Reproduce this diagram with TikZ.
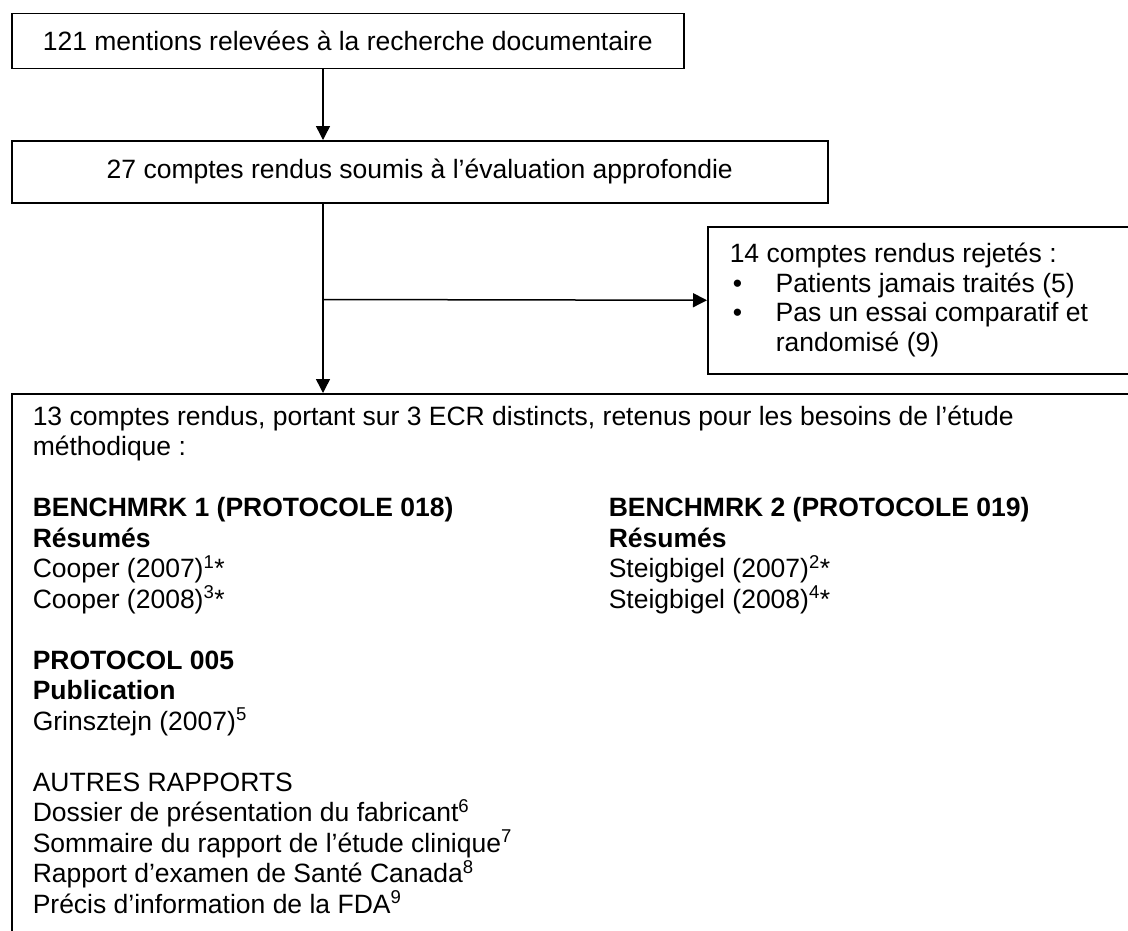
\documentclass[tikz,border=0pt]{standalone}
\usepackage{fontspec}
\setmainfont{Liberation Sans}
\usetikzlibrary{arrows.meta}

\tikzset{
  box/.style={draw, line width=1.5pt, inner sep=0pt, font=\fontsize{26.5}{30.5}\selectfont},
  % multi-line text: the base anchor sits on the last line
  txt/.style={anchor=base west, inner sep=0pt, align=left, font=\fontsize{26.5}{30.5}\selectfont},
}

\begin{document}
\begin{tikzpicture}[x=1pt, y=-1pt, line width=1.5pt, >={Triangle[length=14pt,width=14pt]}]
  \useasboundingbox (0,0) rectangle (1128,930);
  \clip (0,0) rectangle (1128,930);

  \coordinate (branch) at (323,299.5);

  \node[box, anchor=north west, minimum width=672, minimum height=55] (search) at (11,12.5)
    {121 mentions relevées à la recherche documentaire};
  \node[box, anchor=north west, minimum width=816, minimum height=62] (review) at (11,140)
    {27 comptes rendus soumis à l’évaluation approfondie};
  \node[box, anchor=north west, minimum width=440, minimum height=147] (excluded) at (707,226) {};
  \node[box, anchor=north west, minimum width=1140, minimum height=560] (included) at (11,393) {};

  \draw[->] (search.south -| branch) -- (review.north -| branch);
  \draw (review.south -| branch) -- (branch);
  \draw[->] (branch) -- (included.north -| branch);
  \draw[->] (branch) -- (excluded.west);

  % rejected reports
  \node[txt, font=\fontsize{26.5}{29.5}\selectfont] (rejected) at (729,351)
    {14 comptes rendus rejetés :\\
     \makebox[46pt][l]{\hspace{3pt}•}Patients jamais traités (5)\\
     \makebox[46pt][l]{\hspace{3pt}•}Pas un essai comparatif et\\
     \hspace{46pt}randomisé (9)};

  % retained reports
  \node[txt] (retained) at (32,913)
    {13 comptes rendus, portant sur 3 ECR distincts, retenus pour les besoins de l’étude\\
     méthodique :\\[30.5pt]
     \textbf{BENCHMRK 1 (PROTOCOLE 018)}\\
     \textbf{Résumés}\\
     Cooper (2007)\textsuperscript{1}*\\
     Cooper (2008)\textsuperscript{3}*\\[30.5pt]
     \textbf{PROTOCOL 005}\\
     \textbf{Publication}\\
     Grinsztejn (2007)\textsuperscript{5}\\[30.5pt]
     AUTRES RAPPORTS\\
     Dossier de présentation du fabricant\textsuperscript{6}\\
     Sommaire du rapport de l’étude clinique\textsuperscript{7}\\
     Rapport d’examen de Santé Canada\textsuperscript{8}\\
     Précis d’information de la FDA\textsuperscript{9}};
  \node[txt] (benchmrk2) at (608,608)
    {\textbf{BENCHMRK 2 (PROTOCOLE 019)}\\
     \textbf{Résumés}\\
     Steigbigel (2007)\textsuperscript{2}*\\
     Steigbigel (2008)\textsuperscript{4}*};
\end{tikzpicture}
\end{document}
